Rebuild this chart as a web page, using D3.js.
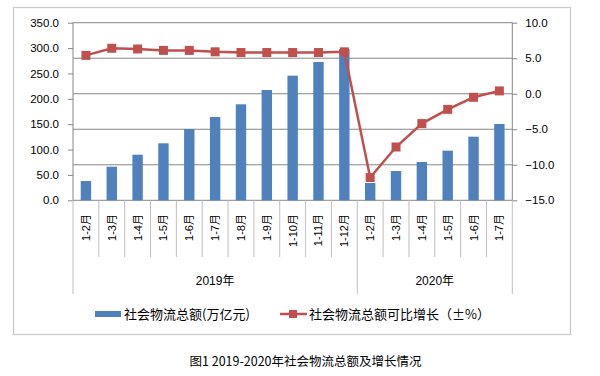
<!DOCTYPE html>
<html><head><meta charset="utf-8">
<script src="https://cdn.jsdelivr.net/npm/d3@7"></script>
<style>
html,body{margin:0;padding:0;background:#fff;}
svg{display:block;}
text{font-family:"Liberation Sans","Noto Sans CJK SC",sans-serif;fill:#000;}
.cjk{font-family:"Noto Sans CJK SC",sans-serif;}
</style></head>
<body>
<svg id="c" width="600" height="376"></svg>
<script>
const categories = ["1-2月","1-3月","1-4月","1-5月","1-6月","1-7月","1-8月","1-9月","1-10月","1-11月","1-12月","1-2月","1-3月","1-4月","1-5月","1-6月","1-7月"];
const years = ["2019年","2020年"];
const yearCounts = [11, 6];
const totals = [38.0, 66.2, 89.9, 112.3, 140.5, 164.2, 189.2, 217.4, 245.6, 272.6, 298.0, 34.1, 57.7, 75.5, 97.8, 125.4, 150.4];
const growth = [5.4, 6.4, 6.3, 6.1, 6.1, 5.9, 5.8, 5.8, 5.8, 5.8, 5.9, -11.8, -7.5, -4.2, -2.2, -0.5, 0.4];
const leftTicks = [0, 50, 100, 150, 200, 250, 300, 350];
const rightTicks = [-15, -10, -5, 0, 5, 10];
const seriesNames = ["社会物流总额(万亿元)", "社会物流总额可比增长（±%）"];
const caption = "图1 2019-2020年社会物流总额及增长情况";

const svg = d3.select("#c");
const L = 73, R = 512.3, T = 22.7, B = 200.3;
const blue = "#4F81BD", red = "#C0504D", grid = "#868686", light = "#BFBFBF";

// outer frame
svg.append("rect").attr("x", 13.5).attr("y", 7.5).attr("width", 557).attr("height", 327)
  .attr("fill", "none").attr("stroke", "#C8C8C8").attr("stroke-width", 1.2);

const idx = categories.map((d, i) => i);
const x = d3.scaleBand().domain(idx).range([L, R]).padding(0);
const yL = d3.scaleLinear().domain([0, 350]).range([B, T]);
const yR = d3.scaleLinear().domain([-15, 10]).range([B, T]);

// gridlines from right axis
svg.append("g").selectAll("line").data(rightTicks).join("line")
  .attr("x1", L).attr("x2", R).attr("y1", d => yR(d)).attr("y2", d => yR(d))
  .attr("stroke", grid).attr("stroke-width", 1);

// left axis
const gl = svg.append("g").attr("transform", `translate(${L},0)`)
  .call(d3.axisLeft(yL).tickValues(leftTicks).tickFormat(d3.format(".1f")).tickSize(5).tickPadding(9));
gl.select(".domain").attr("stroke", grid).attr("d", `M-0,${T}V${B}`);
gl.selectAll(".tick line").attr("stroke", grid);
gl.selectAll("text").attr("font-size", 11.5).attr("fill", "#000").style("font-family", "'Liberation Sans',sans-serif");

// right axis
const gr = svg.append("g").attr("transform", `translate(${R},0)`)
  .call(d3.axisRight(yR).tickValues(rightTicks).tickFormat(d3.format(".1f")).tickSize(5).tickPadding(8));
gr.select(".domain").attr("stroke", grid).attr("d", `M0,${T}V${B}`);
gr.selectAll(".tick line").attr("stroke", grid);
gr.selectAll("text").attr("font-size", 11.5).attr("fill", "#000").style("font-family", "'Liberation Sans',sans-serif");

// category separators
const bounds = d3.range(categories.length + 1).map(i => L + i * x.bandwidth());
let yearB = [0]; yearCounts.reduce((a, c) => { yearB.push(a + c); return a + c; }, 0);
svg.append("g").selectAll("line").data(bounds).join("line")
  .attr("x1", d => d).attr("x2", d => d).attr("y1", B)
  .attr("y2", (d, i) => yearB.includes(i) ? 294 : 257)
  .attr("stroke", light).attr("stroke-width", 1);

// bars
const bw = 10.4;
svg.append("g").selectAll("rect").data(totals).join("rect")
  .attr("x", (d, i) => x(i) + x.bandwidth() / 2 - bw / 2)
  .attr("width", bw)
  .attr("y", d => yL(d)).attr("height", d => B - yL(d))
  .attr("fill", blue);

// line
const line = d3.line().x((d, i) => x(i) + x.bandwidth() / 2).y(d => yR(d));
svg.append("path").datum(growth).attr("d", line).attr("fill", "none")
  .attr("stroke", red).attr("stroke-width", 2.5);
const ms = 9;
svg.append("g").selectAll("rect").data(growth).join("rect")
  .attr("x", (d, i) => x(i) + x.bandwidth() / 2 - ms / 2)
  .attr("y", d => yR(d) - ms / 2).attr("width", ms).attr("height", ms)
  .attr("fill", red);

// category labels rotated
svg.append("g").selectAll("text").data(categories).join("text")
  .attr("transform", (d, i) => `translate(${x(i) + x.bandwidth() / 2 + 4},214) rotate(-90)`)
  .attr("text-anchor", "end").attr("font-size", 11)
  .text(d => d);

// year labels
svg.append("g").selectAll("text").data(years).join("text")
  .attr("x", (d, i) => (bounds[yearB[i]] + bounds[yearB[i + 1]]) / 2)
  .attr("y", 285).attr("text-anchor", "middle").attr("font-size", 12)
  .text(d => d);

// legend
const lg = svg.append("g");
lg.append("rect").attr("x", 95).attr("y", 311).attr("width", 26).attr("height", 6).attr("fill", blue);
lg.append("text").attr("class", "cjk").attr("x", 124).attr("y", 318.5).attr("font-size", 13).text(seriesNames[0]);
lg.append("line").attr("x1", 280).attr("x2", 307).attr("y1", 314).attr("y2", 314).attr("stroke", red).attr("stroke-width", 2.5);
lg.append("rect").attr("x", 289).attr("y", 310).attr("width", 8).attr("height", 8).attr("fill", red);
lg.append("text").attr("class", "cjk").attr("x", 309).attr("y", 318.5).attr("font-size", 13).text(seriesNames[1]);

// caption
svg.append("text").attr("class", "cjk").attr("x", 305.5).attr("y", 366).attr("text-anchor", "middle")
  .attr("font-size", 12.5).attr("fill", "#222").text(caption);
</script>
</body></html>
